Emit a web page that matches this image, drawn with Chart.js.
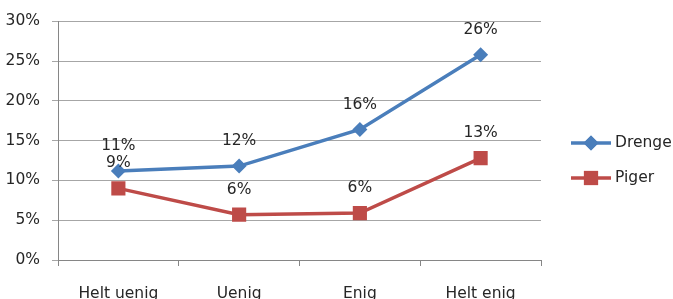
<!DOCTYPE html>
<html>
<head>
<meta charset="utf-8">
<script src="https://cdn.jsdelivr.net/npm/chart.js@4"></script>
<style>
  body { margin: 0; background: #fff; }
  #wrap { width: 673px; height: 299px; }
</style>
</head>
<body>
<div id="wrap"><canvas id="canvas"></canvas></div>
<script>
var categories = ['Helt uenig', 'Uenig', 'Enig', 'Helt enig'];
var drenge = [11.2, 11.8, 16.4, 25.8];
var piger = [9.0, 5.7, 5.9, 12.8];
var labelsDrenge = ['11%', '12%', '16%', '26%'];
var labelsPiger = ['9%', '6%', '6%', '13%'];

var FONT = "'DejaVu Sans', sans-serif";
var TEXT = '#262626';

// value labels above the points
var valueLabels = {
  id: 'valueLabels',
  afterDatasetsDraw: function (chart) {
    var ctx = chart.ctx;
    ctx.save();
    ctx.font = '15.5px ' + FONT;
    ctx.fillStyle = TEXT;
    ctx.textAlign = 'center';
    ctx.textBaseline = 'middle';
    chart.data.datasets.forEach(function (ds, i) {
      chart.getDatasetMeta(i).data.forEach(function (pt, j) {
        ctx.fillText(ds.valueText[j], pt.x, pt.y - 25);
      });
    });
    ctx.restore();
  }
};

// legend with line + marker, like the office look
var sideLegend = {
  id: 'sideLegend',
  afterDraw: function (chart) {
    var ctx = chart.ctx;
    var x0 = 571, x1 = 611;
    var ys = [143, 178];
    ctx.save();
    chart.data.datasets.forEach(function (ds, i) {
      var y = ys[i];
      ctx.strokeStyle = ds.borderColor;
      ctx.lineWidth = 3.5;
      ctx.beginPath();
      ctx.moveTo(x0, y);
      ctx.lineTo(x1, y);
      ctx.stroke();
      ctx.fillStyle = ds.backgroundColor;
      Chart.helpers.drawPoint(ctx, {
        pointStyle: ds.pointStyle,
        radius: ds.pointRadius,
        borderWidth: 0
      }, (x0 + x1) / 2, y);
      ctx.fill();
      ctx.font = '15.5px ' + FONT;
      ctx.fillStyle = TEXT;
      ctx.textAlign = 'left';
      ctx.textBaseline = 'middle';
      ctx.fillText(ds.label, x1 + 4, y);
    });
    ctx.restore();
  }
};

var ctx = document.getElementById('canvas').getContext('2d');
var chart = new Chart(ctx, {
  type: 'line',
  data: {
    labels: categories,
    datasets: [{
      label: 'Drenge',
      data: drenge,
      valueText: labelsDrenge,
      borderColor: '#4A7EBB',
      backgroundColor: '#4A7EBB',
      borderWidth: 3.5,
      pointStyle: 'rectRot',
      pointRadius: 7.5,
      pointBorderWidth: 0,
      fill: false,
      tension: 0
    }, {
      label: 'Piger',
      data: piger,
      valueText: labelsPiger,
      borderColor: '#BE4B48',
      backgroundColor: '#BE4B48',
      borderWidth: 3.5,
      pointStyle: 'rect',
      pointRadius: 10,
      pointBorderWidth: 0,
      fill: false,
      tension: 0
    }]
  },
  options: {
    responsive: true,
    maintainAspectRatio: false,
    animation: false,
    layout: { padding: { top: 19, right: 132, left: 0, bottom: 0 } },
    plugins: {
      legend: { display: false },
      tooltip: { enabled: false }
    },
    scales: {
      x: {
        offset: true,
        grid: {
          offset: true,
          drawOnChartArea: false,
          drawTicks: true,
          tickLength: 6,
          color: '#868686'
        },
        border: { color: '#868686', width: 1 },
        ticks: {
          font: { family: FONT, size: 15.5 },
          color: TEXT,
          padding: 19,
          maxRotation: 0
        },
        afterFit: function (scale) { scale.height = 39; }
      },
      y: {
        min: 0,
        max: 30,
        grid: {
          color: '#A6A6A6',
          tickLength: 6,
          drawTicks: true
        },
        border: { color: '#868686', width: 1 },
        ticks: {
          stepSize: 5,
          font: { family: FONT, size: 15.5 },
          color: TEXT,
          padding: 12,
          callback: function (v) { return v + '%'; }
        },
        afterFit: function (scale) { scale.width = 58; }
      }
    }
  },
  plugins: [valueLabels, sideLegend]
});
</script>
</body>
</html>
